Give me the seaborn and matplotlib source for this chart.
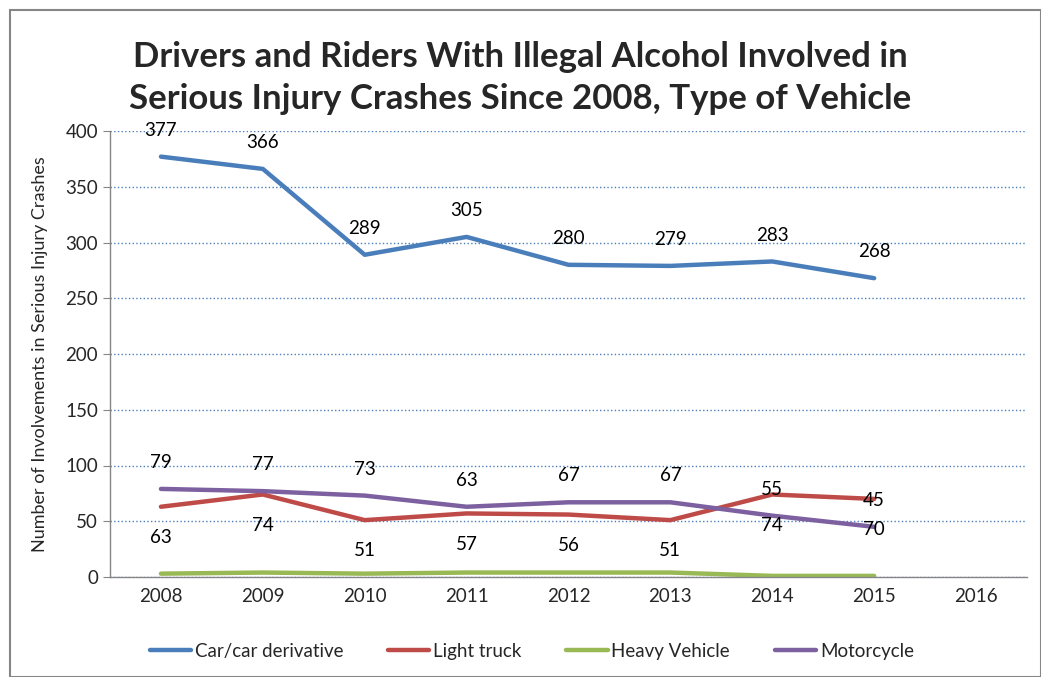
import numpy as np
import pandas as pd
import matplotlib.pyplot as plt
import seaborn as sns
from matplotlib.patches import Rectangle

# Datos
years = ['2008', '2009', '2010', '2011', '2012', '2013', '2014', '2015', '2016']
car = [377, 366, 289, 305, 280, 279, 283, 268]
light_truck = [63, 74, 51, 57, 56, 51, 74, 70]
heavy_vehicle = [3, 4, 3, 4, 4, 4, 1, 1]
motorcycle = [79, 77, 73, 63, 67, 67, 55, 45]

series_names = ['Car/car derivative', 'Light truck', 'Heavy Vehicle', 'Motorcycle']
series_values = [car, light_truck, heavy_vehicle, motorcycle]
colors = ['#4A7EBB', '#BE4B48', '#98B954', '#7D60A0']

rows = []
for name, vals in zip(series_names, series_values):
    for i, v in enumerate(vals):
        rows.append({'pos': i, 'year': years[i], 'value': v, 'series': name})
df = pd.DataFrame(rows)

sns.set_style('white')
plt.rcParams['font.family'] = ['Lato', 'DejaVu Sans']

fig = plt.figure(figsize=(10.41, 6.77), dpi=100)
ax = fig.add_axes([110 / 1041, 1 - 577 / 677, 917 / 1041, 446 / 677])

sns.lineplot(data=df, x='pos', y='value', hue='series', hue_order=series_names,
             palette=colors, linewidth=3.2, ax=ax, legend=True)

# Etiquetas de datos
offsets = {'Car/car derivative': 19, 'Light truck': -22, 'Heavy Vehicle': None, 'Motorcycle': 19}
for name, vals in zip(series_names, series_values):
    off = offsets[name]
    if off is None:
        continue
    for i, v in enumerate(vals):
        ax.annotate(str(v), (i, v), xytext=(0, off), textcoords='offset points',
                    ha='center', va='center', fontsize=13.5, color='black')

ax.set_xlim(-0.5, len(years) - 0.5)
ax.set_ylim(0, 400)
ax.set_yticks(np.arange(0, 401, 50))
ax.set_xticks(range(len(years)))
ax.set_xticklabels(years)
ax.set_xticks(np.arange(-0.5, len(years), 1), minor=True)
ax.tick_params(axis='x', which='major', length=0, labelsize=13.5, pad=8)
ax.tick_params(axis='x', which='minor', length=6, color='#868686', direction='out')
ax.tick_params(axis='y', length=5, color='#868686', direction='out', labelsize=13.5, left=True)
ax.yaxis.grid(True, linestyle=':', color='#4A7EBB', linewidth=1)
ax.xaxis.grid(False)
ax.set_axisbelow(True)
for side in ['top', 'right']:
    ax.spines[side].set_visible(False)
for side in ['left', 'bottom']:
    ax.spines[side].set_color('#868686')
    ax.spines[side].set_linewidth(1)

ax.set_xlabel('')
ax.set_ylabel('Number of Involvements in Serious Injury Crashes', fontsize=13)
ax.yaxis.set_label_coords(-0.068, 0.5)

fig.text(0.5, 1 - 78 / 677, 'Drivers and Riders With Illegal Alcohol Involved in\n'
         'Serious Injury Crashes Since 2008, Type of Vehicle',
         ha='center', va='center', fontsize=25, fontweight='bold', linespacing=1.38)

handles, labels = ax.get_legend_handles_labels()
ax.legend(handles, labels, loc='center', bbox_to_anchor=(0.46, (651 - 577) / -446),
          ncol=4, frameon=False, fontsize=13.5, handlelength=2.2, columnspacing=2.4,
          handletextpad=0.2)

fig.add_artist(Rectangle((10 / 1041, 0), 1 - 10 / 1041, 1 - 10 / 677, transform=fig.transFigure,
                         fill=False, edgecolor='#868686', linewidth=1.5))

fig.savefig('out.png', dpi=100)
